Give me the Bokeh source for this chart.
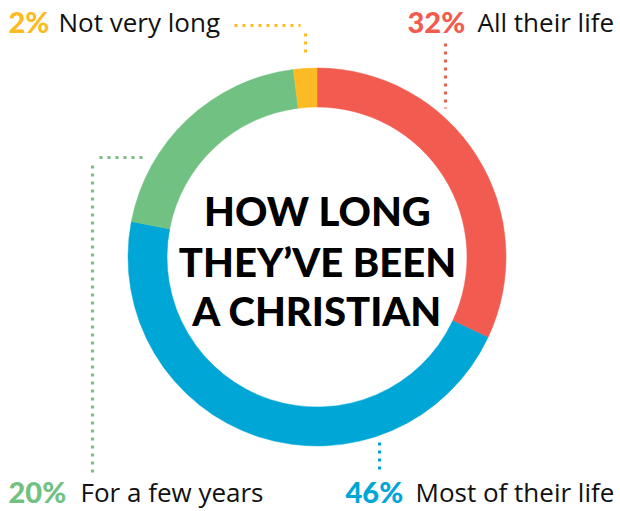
import math
from bokeh.plotting import figure
from bokeh.models import Range1d
from bokeh.core.properties import value
from bokeh.embed import file_html
from bokeh.resources import INLINE

# ---- data ----
categories = ["All their life", "Most of their life", "For a few years", "Not very long"]
shares = [32, 46, 20, 2]
pct_labels = ["32%", "46%", "20%", "2%"]
colors = ["#F25C50", "#00A6D6", "#71C282", "#FCBA24"]
title_lines = ["HOW LONG", "THEY\u2019VE BEEN", "A CHRISTIAN"]

W, H = 620, 511
p = figure(width=W, height=H, output_backend="svg", toolbar_location=None,
           x_range=Range1d(0, W), y_range=Range1d(0, H),
           min_border=0)
p.axis.visible = False
p.grid.visible = False
p.outline_line_color = None
p.background_fill_color = "white"
p.border_fill_color = "white"


def Y(ys):
    return H - ys

cx, cy = 316.5, Y(256.5)
r_in, r_out = 150, 189

# wedges: start at top, clockwise
cum = 0
starts, ends = [], []
for s in shares:
    a0 = math.pi / 2 - 2 * math.pi * cum / 100
    cum += s
    a1 = math.pi / 2 - 2 * math.pi * cum / 100
    starts.append(a0)
    ends.append(a1)

p.annular_wedge(x=[cx] * 4, y=[cy] * 4, inner_radius=r_in, outer_radius=r_out,
                start_angle=starts, end_angle=ends, direction="clock",
                fill_color=colors, line_color=colors, line_width=0.5)

# leader lines (layout, screen coords)
leaders = [
    ([445, 445], [43, 108], 0),
    ([379, 379], [442, 472], 1),
    ([99, 147], [157, 157], 2),
    ([92, 92], [165, 472], 2),
    ([234, 300], [25, 25], 3),
    ([305, 305], [33, 57], 3),
]
for xs, ys, ci in leaders:
    p.line(xs, [Y(v) for v in ys], line_color=colors[ci], line_width=3,
           line_dash="3 5", line_cap="butt")

HEAVY = value("Lato Black, Lato")
SHIFT = 12  # compensate baseline offset

# labels
pct_pos = [(407, 33), (345, 503), (8, 503), (8, 33)]
txt_pos = [477, 415, 80, 58]
for i in range(4):
    x0, yb = pct_pos[i]
    p.text(x=[x0], y=[Y(yb - SHIFT)], text=[pct_labels[i]], text_color=colors[i],
           text_font=HEAVY, text_font_style="bold", text_font_size="29px",
           text_baseline="alphabetic", text_align="left")
    p.text(x=[txt_pos[i]], y=[Y(yb - SHIFT)], text=[categories[i]], text_color="#111111",
           text_font=value("Open Sans"), text_font_size="26px",
           text_baseline="alphabetic", text_align="left")

# center title
for line, yb in zip(title_lines, [222, 273, 322]):
    p.text(x=[317], y=[Y(yb - SHIFT)], text=[line], text_color="#000000",
           text_font=HEAVY, text_font_style="bold",
           text_font_size="40px", text_baseline="alphabetic", text_align="center")

open("out.html", "w").write(file_html(p, INLINE))
